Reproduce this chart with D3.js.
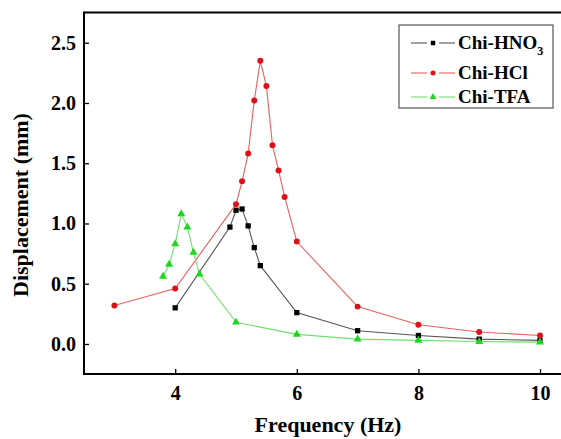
<!DOCTYPE html>
<html>
<head>
<meta charset="utf-8">
<script src="https://cdn.jsdelivr.net/npm/d3@7"></script>
<style>
  body { margin: 0; background: #fff; }
  svg { display: block; }
  svg text { font-family: "Times New Roman", "Liberation Serif", Times, "DejaVu Serif", serif !important; font-weight: bold; }
</style>
</head>
<body>
<svg></svg>
<script>
const width = 561;
const height = 439;

// data
const hno3X = [4, 4.9, 5.0, 5.1, 5.2, 5.3, 5.4, 6, 7, 8, 9, 10];
const hno3Y = [0.30, 0.97, 1.11, 1.12, 0.98, 0.80, 0.65, 0.26, 0.11, 0.07, 0.04, 0.03];
const hclX = [3, 4, 5.0, 5.1, 5.2, 5.3, 5.4, 5.5, 5.6, 5.7, 5.8, 6, 7, 8, 9, 10];
const hclY = [0.32, 0.46, 1.16, 1.35, 1.58, 2.02, 2.35, 2.14, 1.65, 1.44, 1.22, 0.85, 0.31, 0.16, 0.10, 0.07];
const tfaX = [3.8, 3.9, 4.0, 4.1, 4.2, 4.3, 4.4, 5, 6, 7, 8, 9, 10];
const tfaY = [0.56, 0.66, 0.83, 1.08, 0.97, 0.76, 0.58, 0.18, 0.08, 0.04, 0.03, 0.02, 0.015];
const xTicks = [4, 6, 8, 10];
const yTicks = [0, 0.5, 1.0, 1.5, 2.0, 2.5];

const series = [
  { name: 'Chi-HNO', sub: '3', xs: hno3X, ys: hno3Y, color: '#000', line: '#555', shape: d3.symbolSquare },
  { name: 'Chi-HCl', sub: '', xs: hclX, ys: hclY, color: '#e0101a', line: '#e86060', shape: d3.symbolCircle },
  { name: 'Chi-TFA', sub: '', xs: tfaX, ys: tfaY, color: '#1ed81e', line: '#70e070', shape: d3.symbolTriangle }
];

const plotLeft = 84, plotTop = 12.6, plotBottom = 374.1;

const x = d3.scaleLinear().domain([2.5, 10.5]).range([plotLeft, plotLeft + 8 * 60.8]);
const y = d3.scaleLinear().domain([-0.25, 2.75]).range([plotBottom, plotTop]);

const svg = d3.select('svg')
    .attr('width', width)
    .attr('height', height);

// frame (right side falls outside the picture)
svg.append('line')
    .attr('x1', plotLeft).attr('x2', width + 5)
    .attr('y1', plotTop).attr('y2', plotTop)
    .attr('stroke', '#000').attr('stroke-width', 2);

const xAxis = d3.axisBottom(x).tickValues(xTicks).tickSize(-5).tickPadding(12)
    .tickFormat(d3.format('d'));
const yAxis = d3.axisLeft(y).tickValues(yTicks).tickSize(-5).tickPadding(8)
    .tickFormat(d3.format('.1f'));

const gx = svg.append('g')
    .attr('transform', 'translate(0,' + plotBottom + ')')
    .call(xAxis);
const gy = svg.append('g')
    .attr('transform', 'translate(' + plotLeft + ',0)')
    .call(yAxis);

[gx, gy].forEach(g => {
  g.attr('font-family', null);
  g.select('.domain').attr('stroke-width', 2).attr('stroke', '#000');
  g.selectAll('.tick line').attr('stroke-width', 1.3).attr('stroke', '#000');
  g.selectAll('.tick text')
      .attr('font-size', 20)
      .attr('fill', '#000');
});
gx.select('.domain').attr('d', 'M' + plotLeft + ',0H' + (width + 5));
gy.select('.domain').attr('d', 'M0,' + (plotTop - 1) + 'V' + (plotBottom + 1));

// axis titles
svg.append('text')
    .attr('x', 328).attr('y', 432)
    .attr('text-anchor', 'middle')
    .attr('font-size', 22)
    .text('Frequency (Hz)');

svg.append('text')
    .attr('transform', 'translate(28,' + 205 + ') rotate(-90)')
    .attr('text-anchor', 'middle')
    .attr('font-size', 22)
    .text('Displacement (mm)');

const lineGen = d3.line()
    .x(d => x(d[0]))
    .y(d => y(d[1]));

series.forEach(s => {
  const pts = s.xs.map((v, i) => [v, s.ys[i]]);
  svg.append('path')
      .datum(pts)
      .attr('fill', 'none')
      .attr('stroke', s.line)
      .attr('stroke-width', 1.1)
      .attr('d', lineGen);
  svg.append('g').selectAll('path')
      .data(pts)
      .enter()
      .append('path')
      .attr('transform', d => 'translate(' + x(d[0]) + ',' + y(d[1]) + ')')
      .attr('d', d3.symbol().type(s.shape).size(28))
      .attr('fill', s.color);
});

// legend
const legend = svg.append('g');
legend.append('rect')
    .attr('x', 399).attr('y', 25)
    .attr('width', 154).attr('height', 83)
    .attr('fill', '#fff')
    .attr('stroke', '#555')
    .attr('stroke-width', 1.2);

const rowY = [43, 73, 97];
series.forEach((s, i) => {
  const g = legend.append('g').attr('transform', 'translate(0,' + rowY[i] + ')');
  g.append('line').attr('x1', 411).attr('x2', 427).attr('y1', 0).attr('y2', 0)
      .attr('stroke', s.line).attr('stroke-width', 1.1);
  g.append('line').attr('x1', 439).attr('x2', 455).attr('y1', 0).attr('y2', 0)
      .attr('stroke', s.line).attr('stroke-width', 1.1);
  g.append('path')
      .attr('transform', 'translate(433,0)')
      .attr('d', d3.symbol().type(s.shape).size(20))
      .attr('fill', s.color);
  const t = g.append('text')
      .attr('x', 458).attr('y', 6)
      .attr('font-size', 19)
      .text(s.name);
  if (s.sub) {
    t.append('tspan').attr('dy', 6).attr('font-size', 12).text(s.sub);
  }
});
</script>
</body>
</html>
